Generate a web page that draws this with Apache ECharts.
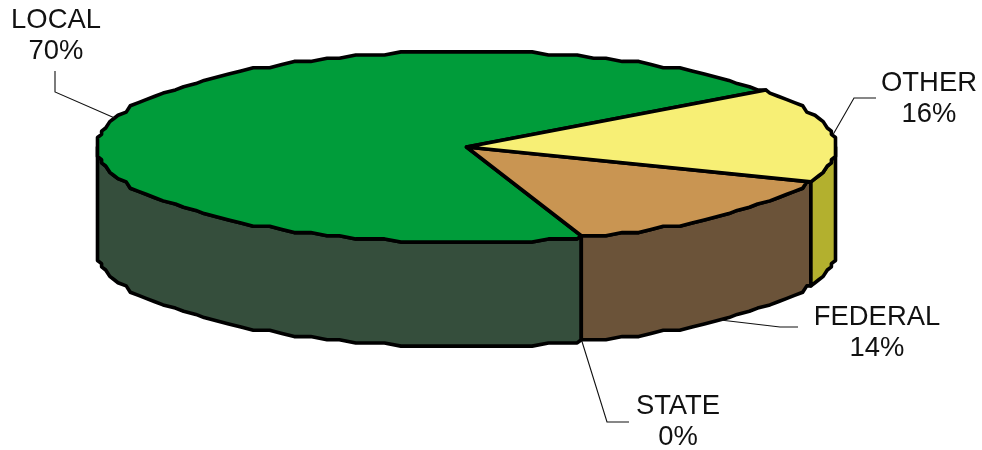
<!DOCTYPE html>
<html>
<head>
<meta charset="utf-8">
<style>html,body{margin:0;padding:0;background:#fff}#c{width:982px;height:450px}</style>
<script src="https://cdn.jsdelivr.net/npm/echarts@6/dist/echarts.min.js"></script>
</head>
<body>
<div id="c"></div>
<script>
// Data
const categories = ['LOCAL', 'STATE', 'FEDERAL', 'OTHER'];
const shares = [70, 0, 14, 16];

// Style
const topColors = ['#009c3a', '#c0c0c0', '#c99552', '#f7ef75'];
const wallColors = ['#354e3c', '#606060', '#6b5339', '#b3b02e'];
const startAngle = 36.2;      // where LOCAL begins, degrees anticlockwise from 3 o'clock
const wallDepth = 1.095;      // wall height, in units of the ellipse's vertical radius
const facetStep = 2.5;        // outline sampled every n degrees
const snapX = 4.1, snapY = 3.17; // coarse device grid of the original drawing
const labelFont = '27.4px "Liberation Sans", Arial, sans-serif';
// Label layout: elbow and text centre, leader end, per category, in pixels
const labelElbow = [[55, 92], [607, 422], [780, 327], [854, 98]];
const labelEnd = [[55, 71], [629, 422], [798, 327], [876, 98]];
const labelCentre = [[56, 36], [678, 422], [877, 333], [929, 98.5]];
const anchorOnWall = [false, true, true, false];

const total = shares.reduce((a, b) => a + b, 0);
const ranges = [];
shares.reduce((from, v) => {
  const to = from + v / total * 360;
  ranges.push([from, to]);
  return to;
}, 0);
// LOCAL runs anticlockwise from startAngle; the rest continue round.
function angleRange(i) {
  return [startAngle + ranges[i][0], startAngle + ranges[i][1]];
}

function unit(deg) {
  const r = deg * Math.PI / 180;
  return [Math.cos(r), Math.sin(r)];
}
// Snap to the coarse grid, measured from the pie's centre so the extremes stay in place.
function rimPoint(api, deg) {
  const p = api.coord(unit(deg));
  const c = api.coord([0, 0]);
  return [
    c[0] + Math.round((p[0] - c[0]) / snapX) * snapX,
    c[1] + Math.round((p[1] - c[1]) / snapY) * snapY
  ];
}
function rim(api, a, b) {
  const pts = [rimPoint(api, a)];
  let d = (Math.floor(a / facetStep) + 1) * facetStep;
  for (; d < b; d += facetStep) pts.push(rimPoint(api, d));
  pts.push(rimPoint(api, b));
  return pts;
}
function depthPx(api) {
  return api.size([0, wallDepth])[1];
}

function renderWall(params, api) {
  const i = api.value(0);
  const [a, b] = angleRange(i);
  const children = [];
  // the visible wall is the lower half of the ellipse: 180..360 and 540..720
  [[180, 360], [540, 720]].forEach(([lo, hi]) => {
    const s = Math.max(a, lo), e = Math.min(b, hi);
    if (e <= s) return;
    const up = rim(api, s, e);
    const dp = depthPx(api);
    const down = up.map(p => [p[0], p[1] + dp]).reverse();
    children.push({
      type: 'polygon', shape: { points: up.concat(down) },
      style: { fill: wallColors[i], stroke: '#000', lineWidth: 3.6, lineJoin: 'round' }
    });
  });
  return { type: 'group', children };
}

function renderTop(params, api) {
  const i = api.value(0);
  const [a, b] = angleRange(i);
  if (b - a <= 0) return { type: 'group', children: [] };
  const c = api.coord([0, 0]);
  return {
    type: 'polygon',
    shape: { points: [c].concat(rim(api, a, b)) },
    style: { fill: topColors[i], stroke: '#000', lineWidth: 3.6, lineJoin: 'round' }
  };
}

function renderLabel(params, api) {
  const i = api.value(0);
  const [a, b] = angleRange(i);
  const p = api.coord(unit((a + b) / 2));
  const anchor = [p[0], p[1] + (anchorOnWall[i] ? depthPx(api) : 0)];
  return {
    type: 'group',
    children: [
      {
        type: 'polyline',
        shape: { points: [labelEnd[i], labelElbow[i], anchor] },
        style: { fill: 'none', stroke: '#111', lineWidth: 1.1 }
      },
      {
        type: 'text',
        style: {
          x: labelCentre[i][0], y: labelCentre[i][1],
          text: categories[i] + '\n' + api.value(1) + '%',
          font: labelFont, lineHeight: 31, fill: '#111',
          align: 'center', verticalAlign: 'middle'
        }
      }
    ]
  };
}

const rows = categories.map((_, i) => [i, shares[i]]);
const chart = echarts.init(document.getElementById('c'), null, { renderer: 'canvas' });
chart.setOption({
  animation: false,
  backgroundColor: '#fff',
  grid: { left: 97, top: 52, width: 739, height: 294, containLabel: false },
  xAxis: { type: 'value', min: -1, max: 1, show: false },
  yAxis: { type: 'value', min: -1 - wallDepth, max: 1, show: false },
  series: [
    { type: 'custom', data: rows, renderItem: renderWall, silent: true, z: 2, clip: false },
    { type: 'custom', data: rows, renderItem: renderTop, silent: true, z: 3, clip: false },
    { type: 'custom', data: rows, renderItem: renderLabel, silent: true, z: 4, clip: false }
  ]
});
</script>
</body>
</html>
